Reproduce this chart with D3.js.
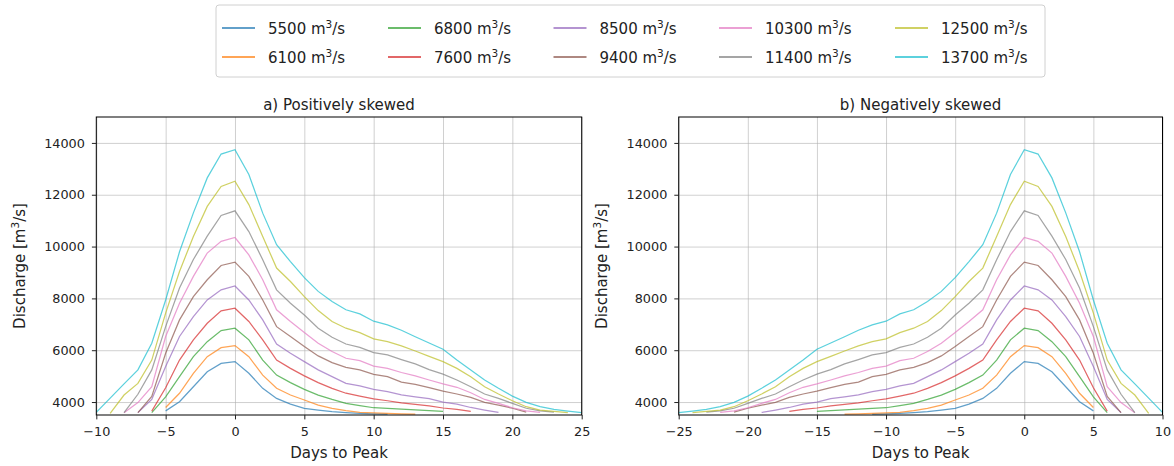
<!DOCTYPE html>
<html>
<head>
<meta charset="utf-8">
<script src="https://cdn.jsdelivr.net/npm/d3@7"></script>
<style>
  body { margin: 0; background: #fff; }
  text { font-family: "DejaVu Sans", sans-serif; fill: #222; }
</style>
</head>
<body>
<div id="vis"></div>
<script>
// peak discharge of each event (legend), colour, first day of the record
const PEAKS = [5500, 6100, 6800, 7600, 8500, 9400, 10300, 11400, 12500, 13700];
const COLORS = ["#1f77b4", "#ff7f0e", "#2ca02c", "#d62728", "#9467bd",
                "#8c564b", "#e377c2", "#7f7f7f", "#bcbd22", "#17becf"];
const START_DAYS = [-5, -5, -6, -6, -7, -7, -8, -8, -9, -10];

// discharge per day, positively skewed hydrographs (one value per day from START_DAYS)
const Q5500 = [3660, 4010, 4590, 5170, 5490, 5560, 5110, 4530, 4140, 3920, 3760, 3690, 3630, 3590, 3560, 3540, 3530];
const Q6100 = [3790, 4340, 5110, 5750, 6100, 6180, 5750, 5040, 4530, 4270, 4080, 3880, 3760, 3670, 3600, 3580, 3560, 3540, 3530];
const Q6800 = [3590, 4200, 4980, 5750, 6330, 6760, 6850, 6400, 5620, 5040, 4750, 4490, 4270, 4100, 3950, 3860, 3780, 3760, 3730, 3700, 3670, 3640];
const Q7600 = [3650, 4550, 5620, 6400, 7040, 7520, 7620, 7110, 6400, 5620, 5300, 5010, 4750, 4530, 4340, 4230, 4120, 4050, 3970, 3910, 3850, 3770, 3720, 3640];
const Q8500 = [3590, 4100, 5370, 6530, 7300, 7940, 8330, 8480, 7940, 7170, 6240, 5880, 5560, 5240, 4980, 4720, 4620, 4490, 4400, 4280, 4200, 4130, 4000, 3920, 3790, 3690, 3600];
const Q9400 = [3590, 4220, 5880, 7170, 8070, 8720, 9270, 9400, 8850, 7940, 6910, 6530, 6140, 5780, 5520, 5340, 5240, 5070, 4980, 4770, 4680, 4560, 4420, 4310, 4180, 3990, 3880, 3760, 3610];
const Q10300 = [3590, 3980, 4590, 6530, 7810, 8850, 9750, 10200, 10350, 9680, 8720, 7560, 7110, 6680, 6270, 5950, 5690, 5600, 5390, 5300, 5140, 5010, 4850, 4700, 4570, 4360, 4100, 3950, 3780, 3660, 3600];
const Q11400 = [3590, 4300, 5240, 6910, 8400, 9500, 10400, 11200, 11380, 10580, 9490, 8330, 7810, 7360, 6850, 6500, 6240, 6110, 5910, 5820, 5640, 5470, 5250, 5080, 4850, 4590, 4310, 4140, 3950, 3760, 3660, 3610];
const Q12500 = [3560, 4270, 4720, 5620, 7430, 9040, 10390, 11550, 12320, 12520, 11620, 10390, 9170, 8650, 8070, 7530, 7110, 6850, 6680, 6440, 6330, 6170, 5970, 5760, 5560, 5300, 4980, 4590, 4310, 4050, 3820, 3690, 3640, 3590];
const Q13700 = [3600, 4150, 4700, 5240, 6270, 7940, 9800, 11300, 12650, 13570, 13740, 12780, 11290, 10070, 9420, 8800, 8270, 7880, 7560, 7400, 7120, 6980, 6770, 6520, 6280, 6040, 5620, 5240, 4850, 4530, 4230, 3990, 3820, 3720, 3650, 3590];
const SERIES = [Q5500, Q6100, Q6800, Q7600, Q8500, Q9400, Q10300, Q11400, Q12500, Q13700];

const Y_TICKS = [4000, 6000, 8000, 10000, 12000, 14000];
const X_TICKS_A = [-10, -5, 0, 5, 10, 15, 20, 25];
const X_TICKS_B = [-25, -20, -15, -10, -5, 0, 5, 10];

const WIDTH = 1174;
const HEIGHT = 466;
const TOP = 117;
const BOTTOM = 415;

const SVG = d3.select("#vis").append("svg")
  .attr("width", WIDTH).attr("height", HEIGHT);

const escalaY = d3.scaleLinear().domain([3500, 15000]).range([BOTTOM, TOP]);

function drawPanel(id, left, right, xDomain, xTicks, title, mirror, labelX) {
  const escalaX = d3.scaleLinear().domain(xDomain).range([left, right]);
  const g = SVG.append("g").attr("id", id);

  // rejilla
  g.append("g")
    .attr("transform", `translate(0, ${BOTTOM})`)
    .call(d3.axisBottom(escalaX).tickValues(xTicks).tickSize(-(BOTTOM - TOP)).tickFormat(""))
    .call(s => s.select(".domain").remove())
    .selectAll("line").attr("stroke", "#b0b0b0").attr("stroke-opacity", 0.6);
  g.append("g")
    .attr("transform", `translate(${left}, 0)`)
    .call(d3.axisLeft(escalaY).tickValues(Y_TICKS).tickSize(-(right - left)).tickFormat(""))
    .call(s => s.select(".domain").remove())
    .selectAll("line").attr("stroke", "#b0b0b0").attr("stroke-opacity", 0.6);

  g.append("clipPath").attr("id", id + "-clip")
    .append("rect").attr("x", left).attr("y", TOP)
    .attr("width", right - left).attr("height", BOTTOM - TOP);

  // the negatively skewed panel shows the same events with time reversed
  const linea = d3.line().x(d => escalaX(d.day)).y(d => escalaY(d.q));
  const datos = SERIES.map((vals, k) =>
    vals.map((q, i) => ({ day: (mirror ? -1 : 1) * (START_DAYS[k] + i), q: q })));

  g.append("g").attr("clip-path", `url(#${id}-clip)`)
    .selectAll("path").data(datos).join("path")
    .attr("d", linea)
    .attr("fill", "none")
    .attr("stroke", (d, k) => COLORS[k])
    .attr("stroke-opacity", 0.7)
    .attr("stroke-width", 1.25);

  // marco
  g.append("rect").attr("x", left).attr("y", TOP)
    .attr("width", right - left).attr("height", BOTTOM - TOP)
    .attr("fill", "none").attr("stroke", "#000").attr("stroke-width", 1);

  // ejes
  const ejeX = g.append("g").attr("transform", `translate(0, ${BOTTOM})`)
    .call(d3.axisBottom(escalaX).tickValues(xTicks).tickSize(4.4).tickPadding(7.5).tickFormat(d3.format("d")));
  const ejeY = g.append("g").attr("transform", `translate(${left}, 0)`)
    .call(d3.axisLeft(escalaY).tickValues(Y_TICKS).tickSize(4.4).tickPadding(7).tickFormat(d3.format("d")));
  [ejeX, ejeY].forEach(e => {
    e.select(".domain").remove();
    e.selectAll("text").attr("font-size", 12.8).attr("font-family", "DejaVu Sans").attr("fill", "#222");
    e.selectAll("line").attr("stroke", "#222");
  });

  g.append("text")
    .attr("x", (left + right) / 2).attr("y", 109.5)
    .attr("text-anchor", "middle").attr("font-size", 15)
    .text(title);

  g.append("text")
    .attr("x", (left + right) / 2).attr("y", 457.5)
    .attr("text-anchor", "middle").attr("font-size", 15)
    .text("Days to Peak");

  const yl = g.append("text")
    .attr("transform", `translate(${labelX}, ${(TOP + BOTTOM) / 2}) rotate(-90)`)
    .attr("text-anchor", "middle").attr("font-size", 15);
  yl.append("tspan").text("Discharge [m");
  yl.append("tspan").attr("font-size", 10.5).attr("dy", -6).text("3");
  yl.append("tspan").attr("dy", 6).text("/s]");
}

drawPanel("grafico1", 96.3, 581.7, [-10, 25], X_TICKS_A, "a) Positively skewed", false, 25);
drawPanel("grafico2", 678.7, 1162.5, [-25, 10], X_TICKS_B, "b) Negatively skewed", true, 607);

// leyenda
const leyenda = SVG.append("g").attr("id", "leyenda");
leyenda.append("rect")
  .attr("x", 216).attr("y", 5).attr("width", 829).attr("height", 72).attr("rx", 3)
  .attr("fill", "#fff").attr("fill-opacity", 0.8)
  .attr("stroke", "#d0d0d0").attr("stroke-width", 1);

const COL_X = [222, 388, 553.5, 719, 895];
const ROW_Y = [28, 57];
PEAKS.forEach((p, k) => {
  const cx = COL_X[Math.floor(k / 2)];
  const cy = ROW_Y[k % 2];
  leyenda.append("line")
    .attr("x1", cx).attr("x2", cx + 33).attr("y1", cy).attr("y2", cy)
    .attr("stroke", COLORS[k]).attr("stroke-opacity", 0.7).attr("stroke-width", 1.8);
  const t = leyenda.append("text")
    .attr("x", cx + 46).attr("y", cy + 5.5).attr("font-size", 15);
  t.append("tspan").text(p + " m");
  t.append("tspan").attr("font-size", 10.5).attr("dy", -6).text("3");
  t.append("tspan").attr("dy", 6).text("/s");
});
</script>
</body>
</html>
